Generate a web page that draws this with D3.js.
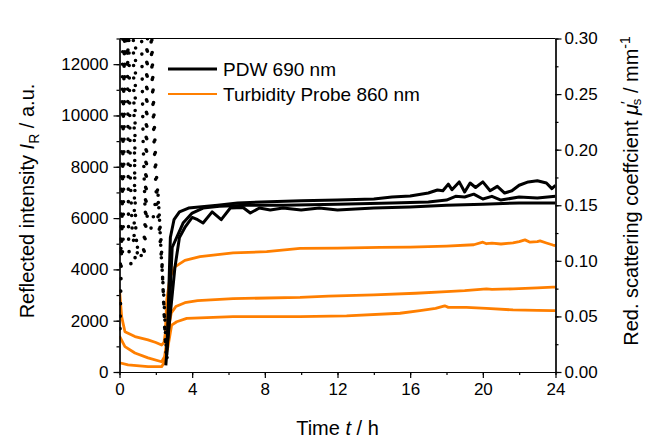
<!DOCTYPE html>
<html><head><meta charset="utf-8">
<script src="https://cdn.jsdelivr.net/npm/d3@7"></script>
<style>body{margin:0;background:#fff}svg{display:block;font-family:"Liberation Sans",Arial,sans-serif}</style>
</head><body><svg id="c" width="647" height="439"></svg>
<script>
// ---------- DATA ----------
const xTicks = [0, 4, 8, 12, 16, 20, 24];
const yLeftTicks = [0, 2000, 4000, 6000, 8000, 10000, 12000];
const yRightTicks = [0.00, 0.05, 0.10, 0.15, 0.20, 0.25, 0.30];
const legendLabels = ["PDW 690 nm", "Turbidity Probe 860 nm"];

// Turbidity probe, reflected intensity (a.u.) : [time h, value]
const turbTop = [[0.0,3200],[0.12,2150],[0.3,1570],[0.85,1380],[1.57,1250],[2.0,1150],[2.32,1050],[2.45,1150],[2.52,1500],[2.6,2800],[2.78,3700],[3.05,4100],[3.6,4350],[4.43,4500],[6.25,4640],[8.1,4690],[9.94,4820],[12,4830],[14.34,4860],[16,4870],[18.0,4910],[19.5,4960],[20.0,5060],[20.2,5000],[20.5,5020],[21.0,4990],[21.66,5030],[22.0,5080],[22.32,5150],[22.6,5060],[23.0,5080],[23.15,5110],[23.5,5030],[23.86,4950],[24.0,4930]];
const turbMid = [[0.0,1400],[0.3,990],[0.85,740],[1.57,550],[2.32,400],[2.48,600],[2.6,1200],[2.72,1800],[2.85,2300],[3.1,2550],[3.6,2700],[4.3,2780],[6.25,2860],[9.94,2910],[11.5,2960],[14,3010],[16.3,3070],[18.0,3130],[19.0,3170],[20.2,3240],[20.5,3220],[21.66,3240],[23.0,3280],[23.86,3310],[24.0,3310]];
const turbLow = [[0.0,360],[0.47,275],[1.57,210],[2.32,210],[2.45,350],[2.57,700],[2.67,990],[2.87,1830],[3.15,1960],[3.7,2090],[6.25,2160],[9.94,2160],[12.5,2190],[15.44,2290],[16.54,2390],[17.4,2480],[17.9,2580],[18.1,2520],[19.1,2520],[20.2,2480],[21.66,2420],[23.0,2400],[23.86,2390],[24.0,2390]];

// PDW, reduced scattering coefficient mu_s' (1/mm) : [time h, value]
const pdw1 = [[2.6,0.015],[2.7,0.065],[2.8,0.121],[3.0,0.137],[3.3,0.144],[3.8,0.1475],[5.4,0.150],[6.5,0.152],[7.8,0.153],[10,0.154],[12,0.1547],[14,0.1556],[15,0.1574],[16,0.1583],[17,0.161],[17.5,0.1637],[17.8,0.163],[18.1,0.169],[18.3,0.164],[18.7,0.171],[19.0,0.162],[19.3,0.170],[19.6,0.166],[20.0,0.171],[20.4,0.163],[20.8,0.167],[21.2,0.161],[21.6,0.163],[22.0,0.168],[22.5,0.171],[23.0,0.172],[23.5,0.170],[23.8,0.165],[24.0,0.168]];
const pdw2 = [[2.55,0.006],[2.7,0.038],[2.9,0.112],[3.5,0.134],[4.0,0.143],[4.6,0.1475],[5.5,0.149],[7,0.150],[9,0.150],[12,0.151],[15,0.152],[17,0.153],[18,0.1547],[18.5,0.158],[19,0.1574],[19.5,0.160],[20,0.1556],[20.5,0.158],[21,0.1547],[22,0.1574],[23,0.1565],[24,0.158]];
const pdw3 = [[2.6,0.020],[3.05,0.094],[3.3,0.121],[3.6,0.130],[4.0,0.139],[4.3,0.137],[4.6,0.134],[5.1,0.144],[5.6,0.137],[6.1,0.1475],[6.8,0.148],[7.2,0.143],[7.7,0.1475],[8.3,0.1457],[9,0.1475],[10,0.1457],[11,0.1475],[12,0.1457],[13,0.1466],[14,0.1475],[16,0.1484],[18,0.150],[20,0.151],[22,0.152],[24,0.152]];

// PDW during the initial phase (dotted)
const pdwEarly1 = [[0.03,0.039],[0.08,0.083],[0.15,0.150],[0.22,0.242],[0.3,0.320],[0.42,0.320],[0.47,0.208],[0.5,0.120],[0.55,0.099],[0.75,0.095],[0.85,0.102],[0.95,0.113],[1.05,0.111],[1.35,0.106],[1.45,0.129],[1.5,0.208],[1.55,0.320],[1.75,0.320],[1.85,0.254],[2.0,0.185],[2.15,0.150],[2.3,0.115],[2.4,0.074],[2.5,0.035],[2.58,0.014]];
const pdwEarly2 = [[0.05,0.097],[0.1,0.150],[0.15,0.254],[0.2,0.320],[0.35,0.320],[0.45,0.277],[0.5,0.320],[0.75,0.320],[0.8,0.231],[0.85,0.162],[0.9,0.127],[1.0,0.102],[1.15,0.106],[1.3,0.102],[1.42,0.138],[1.48,0.231],[1.52,0.320],[1.7,0.320],[1.9,0.208],[2.05,0.150],[2.2,0.127],[2.35,0.092],[2.45,0.058],[2.55,0.018]];
const pdwEarly3 = [[0.08,0.111],[0.15,0.104],[0.2,0.120],[0.25,0.208],[0.3,0.288],[0.35,0.320],[0.5,0.320],[0.55,0.254],[0.6,0.173],[0.7,0.127],[0.8,0.115],[0.85,0.208],[0.9,0.320],[1.2,0.320],[1.3,0.208],[1.4,0.150],[1.6,0.134],[1.75,0.129],[1.9,0.143],[2.0,0.157],[2.1,0.166],[2.2,0.138],[2.3,0.104],[2.45,0.065],[2.55,0.028],[2.62,0.012]];

// ---------- CHART ----------
const svg = d3.select("#c");
const m = {l:119.5, r:555.5, t:38.5, b:372};
const x = d3.scaleLinear().domain([0,24]).range([m.l,m.r]);
const yL = d3.scaleLinear().domain([0,13000]).range([m.b,m.t]);
const yR = d3.scaleLinear().domain([0,0.30]).range([m.b,m.t]);
const orange = "#ff7f00";

svg.append("defs").append("clipPath").attr("id","clip").append("rect")
  .attr("x",m.l).attr("y",m.t).attr("width",m.r-m.l).attr("height",m.b-m.t);
const plot = svg.append("g").attr("clip-path","url(#clip)");

const lineL = d3.line().x(d=>x(d[0])).y(d=>yL(d[1]));
const lineR = d3.line().x(d=>x(d[0])).y(d=>yR(d[1]));

[turbTop, turbMid, turbLow].forEach(s=>{
  plot.append("path").datum(s).attr("d",lineL).attr("fill","none")
    .attr("stroke",orange).attr("stroke-width",2.8).attr("stroke-linejoin","round");
});
[pdwEarly1, pdwEarly2, pdwEarly3].forEach(s=>{
  plot.append("path").datum(s).attr("d",lineR).attr("fill","none")
    .attr("stroke","#000").attr("stroke-width",3.6).attr("stroke-linecap","round")
    .attr("stroke-dasharray","0,12.5");
});
[pdw1, pdw2, pdw3].forEach(s=>{
  plot.append("path").datum(s).attr("d",lineR).attr("fill","none")
    .attr("stroke","#000").attr("stroke-width",3).attr("stroke-linejoin","round");
});

// axes
const fs = "17px";
function styleAxis(g){ g.selectAll("text").style("font-size",fs).attr("fill","#000");
  g.selectAll("line,path").attr("stroke","#000").attr("stroke-width",1.2); }

const minorX = d3.range(0,25,2), minorL = d3.range(0,13001,1000), minorR = d3.range(0,0.301,0.025);

svg.append("g").attr("transform",`translate(0,${m.b})`)
  .call(d3.axisBottom(x).tickValues(minorX).tickSize(3).tickFormat("").tickSizeOuter(0)).call(styleAxis);
svg.append("g").attr("transform",`translate(0,${m.b})`)
  .call(d3.axisBottom(x).tickValues(xTicks).tickSize(6).tickPadding(5).tickSizeOuter(0)).call(styleAxis);

svg.append("g").attr("transform",`translate(${m.l},0)`)
  .call(d3.axisLeft(yL).tickValues(minorL).tickSize(3).tickFormat("").tickSizeOuter(0)).call(styleAxis);
svg.append("g").attr("transform",`translate(${m.l},0)`)
  .call(d3.axisLeft(yL).tickValues(yLeftTicks).tickSize(6).tickPadding(5).tickFormat(d3.format("d")).tickSizeOuter(0)).call(styleAxis);

svg.append("g").attr("transform",`translate(${m.r},0)`)
  .call(d3.axisRight(yR).tickValues(minorR).tickSize(3).tickFormat("").tickSizeOuter(0)).call(styleAxis);
svg.append("g").attr("transform",`translate(${m.r},0)`)
  .call(d3.axisRight(yR).tickValues(yRightTicks).tickSize(6).tickPadding(3).tickFormat(d3.format(".2f")).tickSizeOuter(0)).call(styleAxis);

svg.append("line").attr("x1",m.l).attr("x2",m.r).attr("y1",m.t).attr("y2",m.t)
  .attr("stroke","#000").attr("stroke-width",1.2);

// axis titles
const tf = 20;
const xt = svg.append("text").attr("x",(m.l+m.r)/2).attr("y",435).attr("text-anchor","middle").style("font-size",tf+"px");
xt.append("tspan").text("Time ");
xt.append("tspan").attr("font-style","italic").text("t");
xt.append("tspan").text(" / h");

const ylt = svg.append("text").attr("transform",`translate(34,201) rotate(-90)`)
  .attr("text-anchor","middle").style("font-size",tf+"px");
ylt.append("tspan").text("Reflected intensity ");
ylt.append("tspan").attr("font-style","italic").text("I");
ylt.append("tspan").attr("dy",5).style("font-size","14px").text("R");
ylt.append("tspan").attr("dy",-5).text(" / a.u.");

const yrt = svg.append("text").attr("transform",`translate(638,191) rotate(-90)`)
  .attr("text-anchor","middle").style("font-size",tf+"px");
yrt.append("tspan").text("Red. scattering coeffcient  ");
yrt.append("tspan").attr("font-style","italic").text("μ");
yrt.append("tspan").attr("dy",-7).style("font-size","15px").text("′");
yrt.append("tspan").attr("dx",-4).attr("dy",10).style("font-size","13px").text("s");
yrt.append("tspan").attr("dy",-3).text(" / mm");
yrt.append("tspan").attr("dy",-8).style("font-size","14px").text("-1");

// legend
const leg = svg.append("g");
[["#000",3],[orange,2.2]].forEach((c,i)=>{
  const yy = 69 + i*25;
  leg.append("line").attr("x1",168).attr("x2",217).attr("y1",yy).attr("y2",yy)
    .attr("stroke",c[0]).attr("stroke-width",c[1]);
  leg.append("text").attr("x",223).attr("y",yy+7).style("font-size","19px").text(legendLabels[i]);
});
</script></body></html>
